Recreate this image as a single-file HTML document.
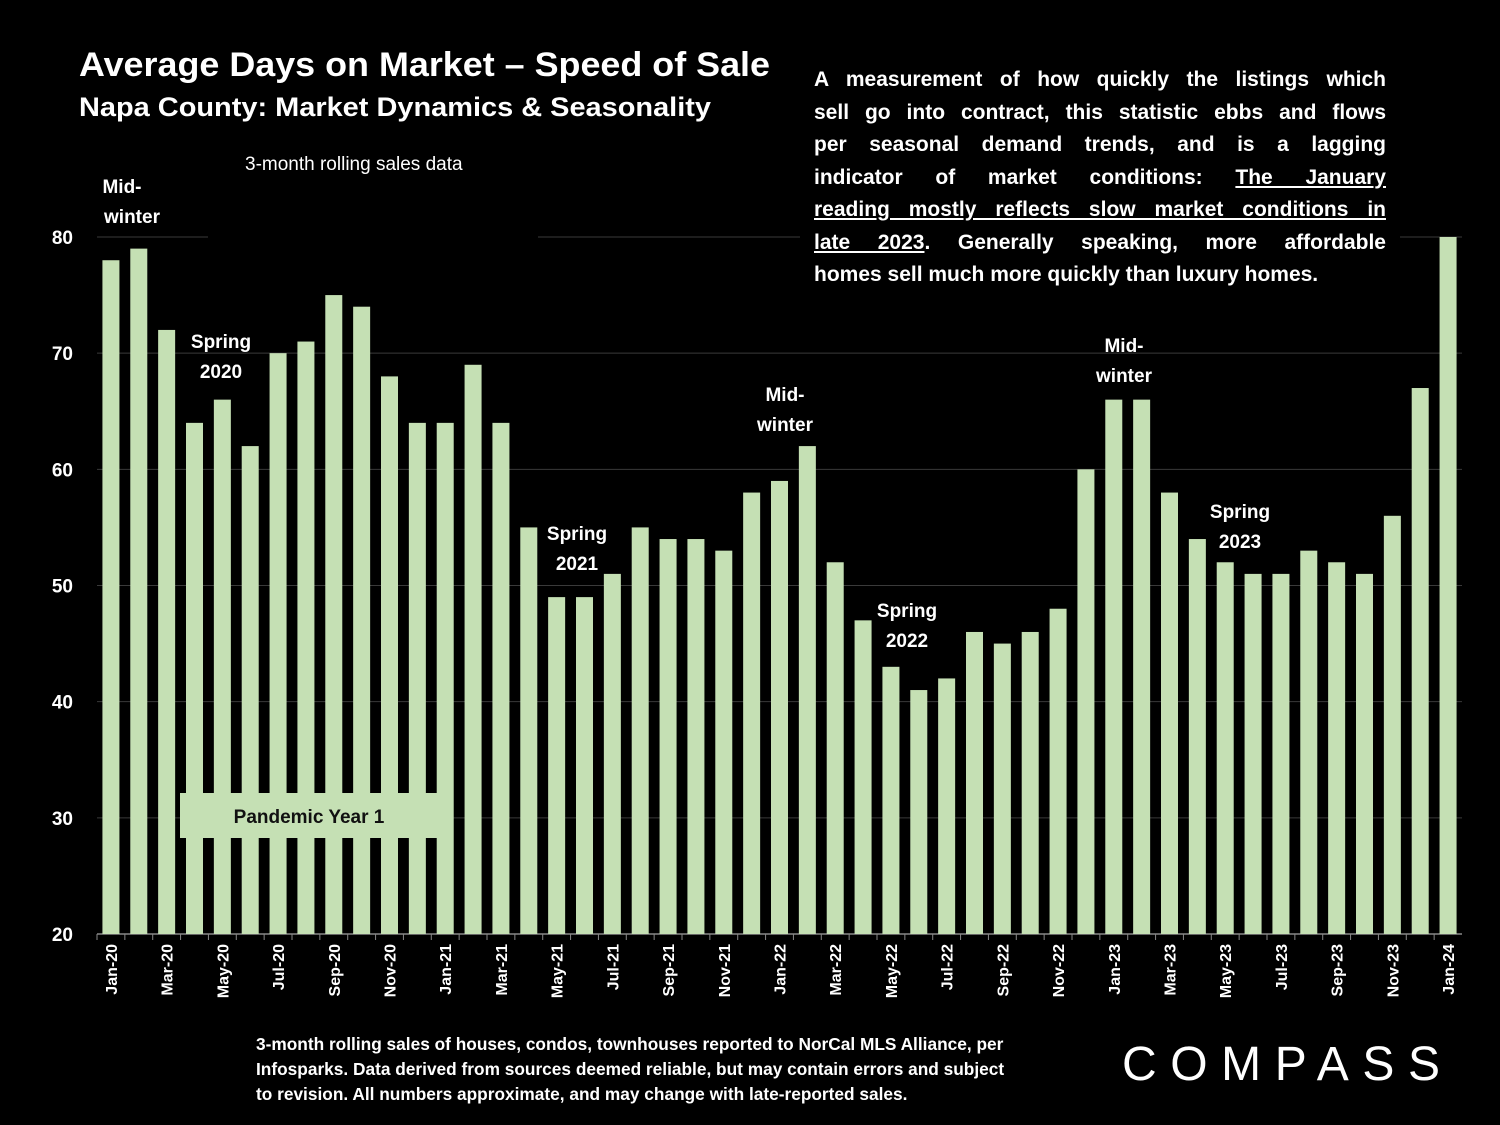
<!DOCTYPE html>
<html><head><meta charset="utf-8"><style>
body{margin:0;background:#000;width:1500px;height:1125px;overflow:hidden;font-family:"Liberation Sans",sans-serif;color:#fff}
svg{position:absolute;left:0;top:0}
.ln{text-align:justify;text-align-last:justify;white-space:nowrap;height:32.5px}
.ln.last{text-align-last:left}
</style></head><body>
<svg width="1500" height="1125">
<g id="grid"></g><g id="bars"></g><g id="xl"></g><g id="yl"></g>
<rect x="800" y="60" width="600" height="232" fill="#000"/>
<rect x="208" y="140" width="330" height="100" fill="#000"/>
<text x="79" y="76" font-size="34" font-weight="bold" fill="#fff" textLength="691" lengthAdjust="spacingAndGlyphs">Average Days on Market – Speed of Sale</text>
<text x="79" y="116" font-size="27" font-weight="bold" fill="#fff" textLength="632" lengthAdjust="spacingAndGlyphs">Napa County: Market Dynamics &amp; Seasonality</text>
<text x="245" y="170" font-size="19" fill="#fff">3-month rolling sales data</text>
<g font-size="19" font-weight="bold" fill="#fff" text-anchor="middle">
<text x="122" y="193"><tspan x="122">Mid-</tspan><tspan x="132" dy="30">winter</tspan></text>
<text x="221" y="348"><tspan x="221">Spring</tspan><tspan x="221" dy="30">2020</tspan></text>
<text x="577" y="540"><tspan x="577">Spring</tspan><tspan x="577" dy="30">2021</tspan></text>
<text x="785" y="401"><tspan x="785">Mid-</tspan><tspan x="785" dy="30">winter</tspan></text>
<text x="907" y="617"><tspan x="907">Spring</tspan><tspan x="907" dy="30">2022</tspan></text>
<text x="1124" y="352"><tspan x="1124">Mid-</tspan><tspan x="1124" dy="30">winter</tspan></text>
<text x="1240" y="518"><tspan x="1240">Spring</tspan><tspan x="1240" dy="30">2023</tspan></text>
</g>
<rect x="180" y="793" width="258" height="45" fill="#c5e0b4"/>
<text x="309" y="823" font-size="19" font-weight="bold" fill="#111" text-anchor="middle">Pandemic Year 1</text>
<g font-size="17.3" font-weight="bold" fill="#fff">
<text x="256" y="1050"><tspan x="256">3-month rolling sales of houses, condos, townhouses reported to NorCal MLS Alliance, per</tspan><tspan x="256" dy="25">Infosparks. Data derived from sources deemed reliable, but may contain errors and subject</tspan><tspan x="256" dy="25">to revision. All numbers approximate, and may change with late-reported sales.</tspan></text>
</g>
<text x="1122" y="1080" font-size="48" fill="#fff" textLength="318" lengthAdjust="spacing">COMPASS</text>
</svg>
<div style="position:absolute;left:814px;top:64px;width:572px;font-size:21px;font-weight:bold;line-height:32.5px">
<div class="ln">A measurement of how quickly the listings which</div>
<div class="ln">sell go into contract, this statistic ebbs and flows</div>
<div class="ln">per seasonal demand trends, and is a lagging</div>
<div class="ln">indicator of market conditions: <u>The January</u></div>
<div class="ln"><u>reading mostly reflects slow market conditions in</u></div>
<div class="ln"><u>late 2023</u>. Generally speaking, more affordable</div>
<div class="ln last">homes sell much more quickly than luxury homes.</div>
</div>
<script>
const categories=["Jan-20","Feb-20","Mar-20","Apr-20","May-20","Jun-20","Jul-20","Aug-20","Sep-20","Oct-20","Nov-20","Dec-20","Jan-21","Feb-21","Mar-21","Apr-21","May-21","Jun-21","Jul-21","Aug-21","Sep-21","Oct-21","Nov-21","Dec-21","Jan-22","Feb-22","Mar-22","Apr-22","May-22","Jun-22","Jul-22","Aug-22","Sep-22","Oct-22","Nov-22","Dec-22","Jan-23","Feb-23","Mar-23","Apr-23","May-23","Jun-23","Jul-23","Aug-23","Sep-23","Oct-23","Nov-23","Dec-23","Jan-24"];
const values=[78,79,72,64,66,62,70,71,75,74,68,64,64,69,64,55,49,49,51,55,54,54,53,58,59,62,52,47,43,41,42,46,45,46,48,60,66,66,58,54,52,51,51,53,52,51,56,67,80];
const yTicks=[20,30,40,50,60,70,80];
const NS="http://www.w3.org/2000/svg";
const x0=97,x1=1462,yTop=237,yBot=934,yMin=20,yMax=80;
const step=(x1-x0)/categories.length;
const xc=i=>x0+step*(i+0.5);
const y=v=>yBot-(Math.min(v,yMax)-yMin)/(yMax-yMin)*(yBot-yTop);
function mk(t,a,p){const e=document.createElementNS(NS,t);for(const k in a)e.setAttribute(k,a[k]);document.getElementById(p).appendChild(e);return e;}
yTicks.forEach(v=>{
 if(v>yMin){const g=mk('line',{x1:x0,x2:x1,y1:y(v),y2:y(v),stroke:'#3a3a3a','stroke-width':1},'grid');
 
 }
 const t=mk('text',{x:73,y:y(v)+7,'text-anchor':'end','font-size':19,'font-weight':'bold',fill:'#fff'},'yl');
 t.textContent=v;
 
 
});
const ax=mk('line',{x1:x0,x2:x1,y1:yBot,y2:yBot,stroke:'#888','stroke-width':1.5},'grid');


categories.forEach((c,i)=>{
 const b=mk('rect',{x:xc(i)-8.5,y:y(values[i]),width:17,height:yBot-y(values[i]),fill:'#c5e0b4'},'bars');
 
 
 const tk=mk('line',{x1:x0+step*i,x2:x0+step*i,y1:yBot,y2:yBot+6,stroke:'#888'},'grid');
 
 
 if(i%2===0){
  const t=mk('text',{transform:`translate(${xc(i)+6},944) rotate(-90)`,'text-anchor':'end','font-size':16,'font-weight':'bold',fill:'#fff'},'xl');
  t.textContent=c;
  
  
 }
});
</script>
</body></html>
